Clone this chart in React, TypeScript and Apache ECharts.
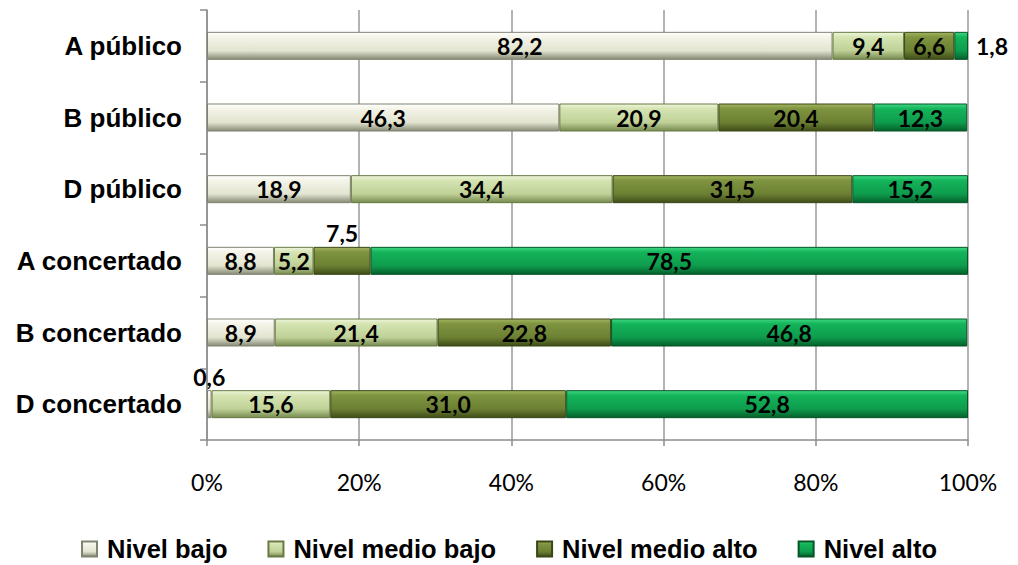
import React, { useEffect, useRef } from "react";
import * as echarts from "echarts";

const categories = ["A público", "B público", "D público", "A concertado", "B concertado", "D concertado"];
const seriesNames = ["Nivel bajo", "Nivel medio bajo", "Nivel medio alto", "Nivel alto"];
const nivelBajo = [82.2, 46.3, 18.9, 8.8, 8.9, 0.6];
const nivelMedioBajo = [9.4, 20.9, 34.4, 5.2, 21.4, 15.6];
const nivelMedioAlto = [6.6, 20.4, 31.5, 7.5, 22.8, 31.0];
const nivelAlto = [1.8, 12.3, 15.2, 78.5, 46.8, 52.8];
const xTicks = [0, 20, 40, 60, 80, 100];

const palettes = [
  { light: "#ffffff", face: "#f4f4e8", mid: "#e2e4d0", dark: "#868b76", border: "#7f8371" },
  { light: "#eef5dc", face: "#d5e4b2", mid: "#bfd197", dark: "#76894f", border: "#687a42" },
  { light: "#a3b45f", face: "#7f9440", mid: "#6c8033", dark: "#3f4d18", border: "#3a4617" },
  { light: "#3fd884", face: "#14b45a", mid: "#0e9c4d", dark: "#05602b", border: "#055527" },
];

const fmt = (v: number) => v.toFixed(1).replace(".", ",");

const LABEL_FONT = "Lato";
const ARIAL = "Liberation Sans";

export default function App() {
  const ref = useRef<HTMLDivElement>(null);
  useEffect(() => {
    if (!ref.current) return;
    const chart = echarts.init(ref.current, null, { renderer: "svg" });
    const all = [nivelBajo, nivelMedioBajo, nivelMedioAlto, nivelAlto];
    const series = all.map((arr, si) => {
      const p = palettes[si];
      return {
        name: seriesNames[si],
        type: "bar",
        stack: "total",
        barWidth: 28,
        itemStyle: {
          color: new echarts.graphic.LinearGradient(0, 0, 0, 1, [
            { offset: 0, color: p.light },
            { offset: 0.18, color: p.face },
            { offset: 0.68, color: p.mid },
            { offset: 1, color: p.dark },
          ]),
          borderColor: p.border,
          borderWidth: 1,
        },
        label: {
          show: true,
          position: "inside",
          color: "#000",
          fontFamily: LABEL_FONT,
          fontWeight: "bold",
          fontSize: 23,
          formatter: (q: any) => fmt(q.value),
        },
        data: arr.map((v, ci) => {
          const d: any = { value: v };
          if (si === 3 && ci === 0) d.label = { position: "right", distance: 8 };
          if (si === 2 && ci === 3) d.label = { position: "top", distance: 2 };
          if (si === 0 && ci === 5) d.label = { position: "top", distance: 2 };
          return d;
        }),
      };
    });
    chart.setOption({
      animation: false,
      grid: { left: 207, right: 50, top: 10, bottom: 125, containLabel: false },
      legend: {
        top: 530,
        left: "center",
        itemWidth: 15,
        itemHeight: 15,
        itemGap: 40,
        icon: "rect",
        textStyle: {
          fontFamily: ARIAL,
          fontWeight: "bold",
          fontSize: 25.5,
          lineHeight: 28,
          padding: [0, 0, 0, 5],
          color: "#000",
        },
        data: seriesNames,
      },
      xAxis: {
        type: "value",
        min: 0,
        max: 100,
        interval: 20,
        axisLine: { show: true, lineStyle: { color: "#8c8c8c", width: 1.5 } },
        axisTick: { show: true, length: 6, lineStyle: { color: "#8c8c8c", width: 1.5 } },
        splitLine: { show: true, lineStyle: { color: "#9a9a9a", width: 1.5 } },
        axisLabel: {
          margin: 30,
          color: "#000",
          fontFamily: LABEL_FONT,
          fontSize: 23,
          formatter: (v: number) => (xTicks.includes(v) ? v + "%" : ""),
        },
      },
      yAxis: {
        type: "category",
        inverse: true,
        data: categories,
        axisLine: { show: true, lineStyle: { color: "#8c8c8c", width: 1.5 } },
        axisTick: { show: true, length: 7, lineStyle: { color: "#8c8c8c", width: 1.5 } },
        axisLabel: {
          margin: 25,
          color: "#000",
          fontFamily: ARIAL,
          fontWeight: "bold",
          fontSize: 26,
        },
      },
      series,
    });
    return () => chart.dispose();
  }, []);
  return <div ref={ref} style={{ width: 1018, height: 565, position: "absolute", left: 0, top: 0 }} />;
}
